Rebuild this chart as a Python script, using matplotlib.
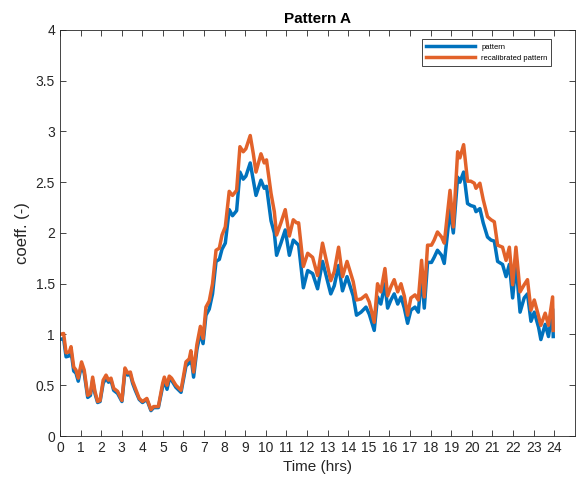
# daily load pattern vs recalibrated pattern
import matplotlib
matplotlib.use("Agg")
import matplotlib.pyplot as plt

# time of day (hrs)
t = [0.00, 0.18, 0.30, 0.46, 0.54, 0.67, 0.78, 0.89, 1.05, 1.18,
     1.35, 1.48, 1.59, 1.70, 1.83, 1.95, 2.10, 2.24, 2.36, 2.48,
     2.61, 2.80, 3.01, 3.16, 3.29, 3.42, 3.53, 3.66, 3.85, 4.01,
     4.22, 4.42, 4.55, 4.78, 4.99, 5.07, 5.20, 5.31, 5.42, 5.63,
     5.88, 6.12, 6.28, 6.36, 6.49, 6.65, 6.82, 6.95, 7.09, 7.25,
     7.41, 7.58, 7.74, 7.87, 8.03, 8.22, 8.38, 8.58, 8.74, 8.90,
     9.03, 9.24, 9.39, 9.52, 9.76, 9.92, 10.03, 10.25, 10.41, 10.52,
     10.73, 10.94, 11.14, 11.33, 11.49, 11.59, 11.82, 12.03, 12.27, 12.51,
     12.75, 13.00, 13.15, 13.32, 13.53, 13.72, 13.94, 14.24, 14.40, 14.62,
     14.86, 15.02, 15.26, 15.42, 15.58, 15.78, 15.91, 16.07, 16.23, 16.40,
     16.56, 16.72, 16.88, 17.04, 17.24, 17.40, 17.56, 17.69, 17.85, 18.04,
     18.17, 18.33, 18.53, 18.66, 18.94, 19.10, 19.31, 19.42, 19.60, 19.79,
     19.95, 20.12, 20.20, 20.39, 20.55, 20.76, 20.93, 21.09, 21.25, 21.49,
     21.66, 21.82, 21.98, 22.14, 22.34, 22.54, 22.70, 22.87, 23.03, 23.24,
     23.35, 23.56, 23.72, 23.92, 23.95]

# recalibrated pattern (orange)
recal = [1.00, 1.01, 0.82, 0.83, 0.88, 0.68, 0.65, 0.57, 0.73, 0.65,
         0.40, 0.42, 0.58, 0.44, 0.34, 0.35, 0.55, 0.60, 0.55, 0.57,
         0.47, 0.44, 0.35, 0.67, 0.62, 0.63, 0.54, 0.47, 0.37, 0.34,
         0.37, 0.26, 0.29, 0.29, 0.52, 0.58, 0.50, 0.59, 0.57, 0.50,
         0.45, 0.73, 0.76, 0.84, 0.63, 0.90, 1.08, 0.96, 1.27, 1.33,
         1.50, 1.83, 1.85, 1.98, 2.06, 2.41, 2.37, 2.42, 2.85, 2.80,
         2.83, 2.96, 2.78, 2.60, 2.78, 2.69, 2.72, 2.39, 2.21, 1.98,
         2.10, 2.23, 1.97, 2.13, 2.10, 2.10, 1.67, 1.80, 1.76, 1.58,
         1.90, 1.67, 1.53, 1.62, 1.86, 1.57, 1.72, 1.52, 1.34, 1.35,
         1.39, 1.32, 1.12, 1.50, 1.42, 1.65, 1.38, 1.47, 1.54, 1.42,
         1.50, 1.38, 1.19, 1.36, 1.39, 1.34, 1.73, 1.37, 1.88, 1.88,
         1.93, 2.01, 1.96, 1.90, 2.42, 2.06, 2.80, 2.74, 2.87, 2.51,
         2.51, 2.49, 2.44, 2.49, 2.33, 2.16, 2.13, 2.11, 1.88, 1.86,
         1.73, 1.86, 1.49, 1.86, 1.42, 1.49, 1.54, 1.24, 1.34, 1.18,
         1.09, 1.21, 1.09, 1.37, 1.04]

# original pattern (blue)
pattern = [0.95, 0.96, 0.78, 0.79, 0.84, 0.64, 0.62, 0.54, 0.70, 0.62,
           0.38, 0.40, 0.55, 0.42, 0.33, 0.34, 0.52, 0.57, 0.53, 0.55,
           0.45, 0.42, 0.34, 0.64, 0.60, 0.61, 0.52, 0.45, 0.36, 0.33,
           0.36, 0.25, 0.28, 0.28, 0.49, 0.55, 0.46, 0.56, 0.55, 0.48,
           0.43, 0.69, 0.72, 0.79, 0.58, 0.85, 1.02, 0.91, 1.19, 1.25,
           1.40, 1.72, 1.74, 1.84, 1.90, 2.23, 2.17, 2.22, 2.60, 2.53,
           2.56, 2.69, 2.52, 2.37, 2.52, 2.44, 2.46, 2.12, 2.00, 1.78,
           1.90, 2.03, 1.78, 1.93, 1.90, 1.88, 1.46, 1.63, 1.60, 1.45,
           1.72, 1.52, 1.40, 1.48, 1.68, 1.43, 1.57, 1.38, 1.19, 1.22,
           1.27, 1.20, 1.04, 1.37, 1.30, 1.50, 1.26, 1.34, 1.40, 1.30,
           1.37, 1.26, 1.11, 1.24, 1.27, 1.22, 1.58, 1.26, 1.71, 1.71,
           1.76, 1.83, 1.78, 1.70, 2.23, 2.00, 2.55, 2.50, 2.60, 2.29,
           2.27, 2.26, 2.21, 2.24, 2.10, 1.96, 1.93, 1.92, 1.72, 1.69,
           1.57, 1.69, 1.36, 1.70, 1.22, 1.36, 1.40, 1.13, 1.22, 1.07,
           0.95, 1.10, 0.98, 1.25, 0.98]

plt.rcParams['font.family'] = ['Liberation Sans', 'DejaVu Sans']

fig = plt.figure(figsize=(5.76, 4.91), dpi=100)
ax = fig.add_axes([0.104, 0.112, 0.894, 0.827])

ax.plot(t, pattern, color='#0072BD', lw=2.5, solid_joinstyle='round',
        label='pattern')
ax.plot(t, recal, color='#E2622A', lw=2.5, solid_joinstyle='round',
        label='recalibrated pattern')

ax.set_xlim(0, 25)
ax.set_ylim(0, 4)
ax.set_xticks(range(0, 25))
ax.set_yticks([0, 0.5, 1, 1.5, 2, 2.5, 3, 3.5, 4])
ax.set_yticklabels(['0', '0.5', '1', '1.5', '2', '2.5', '3', '3.5', '4'])
ax.tick_params(direction='in', top=True, right=True, length=4,
               width=0.6, colors='#262626', labelsize=10)
for s in ax.spines.values():
    s.set_color('#262626')
    s.set_linewidth(0.6)

ax.set_title('Pattern A', fontsize=11, fontweight='bold', pad=5)
ax.set_xlabel('Time (hrs)', fontsize=11, color='#262626')
ax.set_ylabel('coeff. (-)', fontsize=12, color='#262626')

leg = ax.legend(loc='upper right', bbox_to_anchor=(0.962, 0.986),
                fontsize=5.5, fancybox=False, framealpha=1,
                edgecolor='#262626', handlelength=6.5, borderpad=0.5)
leg.get_frame().set_linewidth(0.6)

fig.savefig('out.png', dpi=100)
